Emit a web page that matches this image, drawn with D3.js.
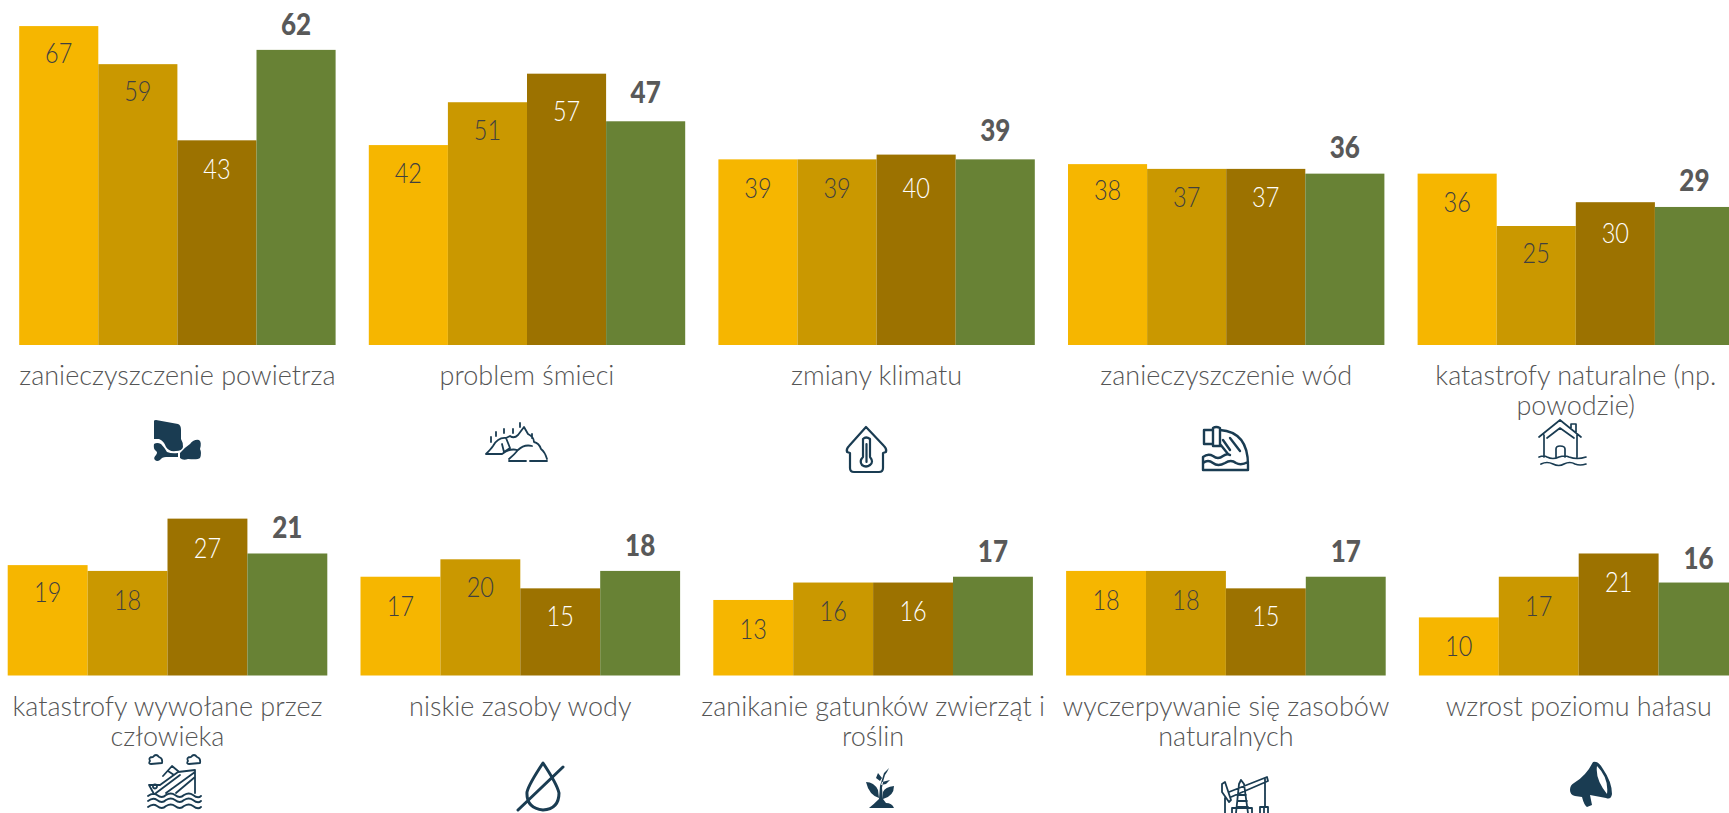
<!DOCTYPE html>
<html><head><meta charset="utf-8">
<script src="https://cdn.jsdelivr.net/npm/d3@7"></script>
<style>html,body{margin:0;padding:0;background:#fff;overflow:hidden}svg{display:block}text{font-family:Lato,"Noto Sans",sans-serif}</style>
</head><body><svg id="c" width="1729" height="813"></svg>
<script>
const labelLines=[["zanieczyszczenie powietrza"],["problem śmieci"],["zmiany klimatu"],["zanieczyszczenie wód"],["katastrofy naturalne (np.","powodzie)"],["katastrofy wywołane przez","człowieka"],["niskie zasoby wody"],["zanikanie gatunków zwierząt i","roślin"],["wyczerpywanie się zasobów","naturalnych"],["wzrost poziomu hałasu"]];
const series=["s1","s2","s3","s4"];
const s1=[67,42,39,38,36,19,17,13,18,10];
const s2=[59,51,39,37,25,18,20,16,18,17];
const s3=[43,57,40,37,30,27,15,16,15,21];
const s4=[62,47,39,36,29,21,18,17,17,16];
const colors=["#F6B600","#CA9800","#9C7200","#688235"];
const labelColors=["#404040","#404040","#ffffff","#595959"];
// small hand placement of the value labels, as in the reference
const nudge1=[-2,-1,0,-3,-1,-2,0,0,0,0];
const nudge2=[-2,-1,0,-1,-2,0,-1,-1,0,0];
const nudge3=[0,8,4,-1,2,0,-1,-1,-1,0];
const nudge4=[-1,-4,-4,-2,-2,-1,-1,-1,-1,0];
const rows=[
 {from:0,to:5,left:19.2,pitch:349.6,width:316.4,base:345,unit:4.76,lab:374,iconTop:[420,422,427,427,420]},
 {from:5,to:10,left:7.7,pitch:352.8,width:319.6,base:675.5,unit:5.81,lab:705,iconTop:[755,762,768,775,761]}
];
const icons=[
 {x:154,sw:0,fill:1,d:"M0 1Q0 0 2 0L24 4Q27 5 27 10L27 19Q29 22 29 27Q28 31 22 31Q15 32 12 27Q10 21 5 19L0 19ZM0 24Q3 22 7 24Q10 27 13 32Q18 34 24 33L24 37L12 37Q8 37 6 40Q3 42 1 40Q-1 38 2 35Q4 32 2 31Q-1 29 0 24ZM26 33Q30 28 36 24Q40 19 45 20Q48 22 46 29Q48 33 46 38Q44 40 34 39Q29 41 26 38Z"},
 {x:486,sw:1.8,fill:0,d:"M0 32Q5 27 7 24Q12 15 20 16L24 14Q28 17 32 13L38 5L42 12Q48 15 48 20Q53 21 55 27Q59 30 61 37M0 32L16 32Q24 26 31 28M23 37Q28 33 32 28Q38 22 46 24M23 39L40 39M44 39L61 39M16 22L18 30L24 26L20 16M5 15L5 20M10 10L10 14M18 7L18 11M27 7L27 11M34 1L34 5M46 12L46 16"},
 {x:846,sw:2.2,fill:0,d:"M20 0L38 19Q41 22 40 25L37 26L37 41Q37 45 33 45L8 45Q4 45 4 41L4 26L1 25Q0 22 3 19ZM17 12Q20 9 24 12L24 30Q28 35 24 38Q20 41 16 38Q13 34 17 30ZM20.500 17L20.500 35"},
 {x:1203,sw:2.4,fill:0,d:"M1 3L10 3L10 17L1 17ZM10 1Q13 -1 17 1L17 19L10 19ZM17 3Q45 5 45 38L45 43L0 43L0 30Q5 26 10 29Q15 33 20 29Q24 26 27 28M17 17L25 27M0 36Q5 32 10 36Q15 40 22 36Q28 32 33 36Q38 39 45 35M20 13L27 23M27 11L37 24"},
 {x:1539,sw:1.7,fill:0,d:"M0 17L21 0L42 17M8 18L21 8L35 18M5 15L5 37M38 15L38 37M32 8L32 4L37 4L37 13M17 37L17 29Q17 26 21 26Q26 26 26 29L26 37M0 37Q5 35 8 37Q14 40 20 37Q26 35 30 37Q38 40 47 37M2 44Q8 41 14 44Q20 47 25 44Q31 41 36 44Q41 46 47 44"},
 {x:148,sw:1.8,fill:0,d:"M2 6Q0 2 5 2Q8 -2 11 2Q15 3 14 8L3 9Q0 9 2 6ZM40 6Q38 2 43 2Q46 -2 49 2Q53 3 52 8L41 9Q38 9 40 6ZM1 30L12 30L30 17L47 15L47 38M15 21L24 11L30 16M20 16L26 20M1 30L6 39M8 38L32 20M18 38L47 17M28 38L47 22M7 33.500A2 2 0 1 0 6.900 33.500M0 41Q5 37 9 40Q14 44 18 40Q23 37 27 40Q32 44 36 40Q41 37 45 40Q50 44 53 41M0 46Q5 42 9 45Q14 49 18 45Q23 42 27 45Q32 49 36 45Q41 42 45 45Q50 49 53 46M0 52Q5 48 9 51Q14 55 18 51Q23 48 27 51Q32 55 36 51Q41 48 45 51Q50 55 53 52"},
 {x:517,sw:3,fill:0,d:"M26 1Q12 22 10 30Q9 46 26 48Q42 47 42 31Q40 22 26 1ZM1 48L46 5"},
 {x:866,sw:0,fill:1,d:"M14 40L28 40Q26 35 20 35L17 31L16 20Q17 12 19 7L21 4L23 0L18 5L14 18L13 31Q8 36 3 40ZM12 5L16 10L14 13L10 10ZM16 14L24 12L20 16L15 17ZM0 14Q8 14 12 22L13 30Q3 27 0 14ZM28 18Q28 28 17 31L17 24Q19 19 28 18Z"},
 {x:1222,sw:1.8,fill:0,d:"M0 9L3 7L9 25L7 27L0 17ZM7 17L45 2L46 6L9 22M19 5L17 9L14 38M19 5L22 9L26 38M16 20L24 20M15.500 26L25 26M15 32L26 32M43 4L43 32M38 32L46 32L46 38M38 32L38 38M42 32L42 38M3 23L3 38M10 33L30 33M10 33L10 38M30 33L30 38"},
 {x:1570,sw:0,fill:1,d:"M23 1Q28 -1 33 8Q42 21 42 33Q41 39 36 37L20 34L22 44L17 46Q14 44 12 36L5 35Q0 34 0 29Q0 24 4 22Q16 15 23 1ZM27 5Q25 18 37 33Q39 17 27 5Z"}
];
const svg=d3.select("#c");
const vals=[s1,s2,s3,s4], nudges=[nudge1,nudge2,nudge3,nudge4];
rows.forEach(r=>{
 const y=d3.scaleLinear().domain([0,1]).range([r.base,r.base-r.unit]);
 const gx=d3.scaleLinear().domain([r.from,r.from+1]).range([r.left,r.left+r.pitch]);
 const bx=d3.scaleBand().domain(series).range([0,r.width]);
 d3.range(r.from,r.to).forEach(i=>{
  const g=svg.append("g").attr("transform",`translate(${gx(i)},0)`);
  series.forEach((s,k)=>{
   const v=vals[k][i];
   g.append("rect").attr("x",bx(s)).attr("width",bx.bandwidth()).attr("y",y(v)).attr("height",y(0)-y(v)).attr("fill",colors[k]);
  });
  series.forEach((s,k)=>{
   const v=vals[k][i];
   const t=g.append("text").attr("x",bx(s)+bx.bandwidth()/2).attr("text-anchor","middle").attr("dominant-baseline","central").text(v);
   if(k===3) t.attr("y",y(v)-26+nudges[k][i]).attr("font-size",31).attr("font-weight",900).attr("fill","#595959");
   else t.attr("y",y(v)+28+nudges[k][i]).attr("font-size",28).attr("font-weight",300).attr("fill",labelColors[k]);
   t.attr("textLength",t.node().getComputedTextLength()*0.84).attr("lengthAdjust","spacingAndGlyphs");
  });
  labelLines[i].forEach((ln,j)=>g.append("text").attr("x",r.width/2).attr("y",r.lab+j*30).attr("text-anchor","middle").attr("dominant-baseline","central").attr("font-size",27).attr("font-weight",300).attr("fill","#555555").text(ln));
  const ic=icons[i],top=r.iconTop[i-r.from];
  svg.append("path").attr("transform",`translate(${ic.x},${top})`).attr("d",ic.d)
   .attr("fill",ic.fill?"#1A3C52":"none").attr("stroke",ic.fill?"none":"#1A3C52").attr("stroke-width",ic.sw||0).attr("stroke-linejoin","round").attr("stroke-linecap","round").attr("fill-rule","evenodd");
 });
});
</script></body></html>
